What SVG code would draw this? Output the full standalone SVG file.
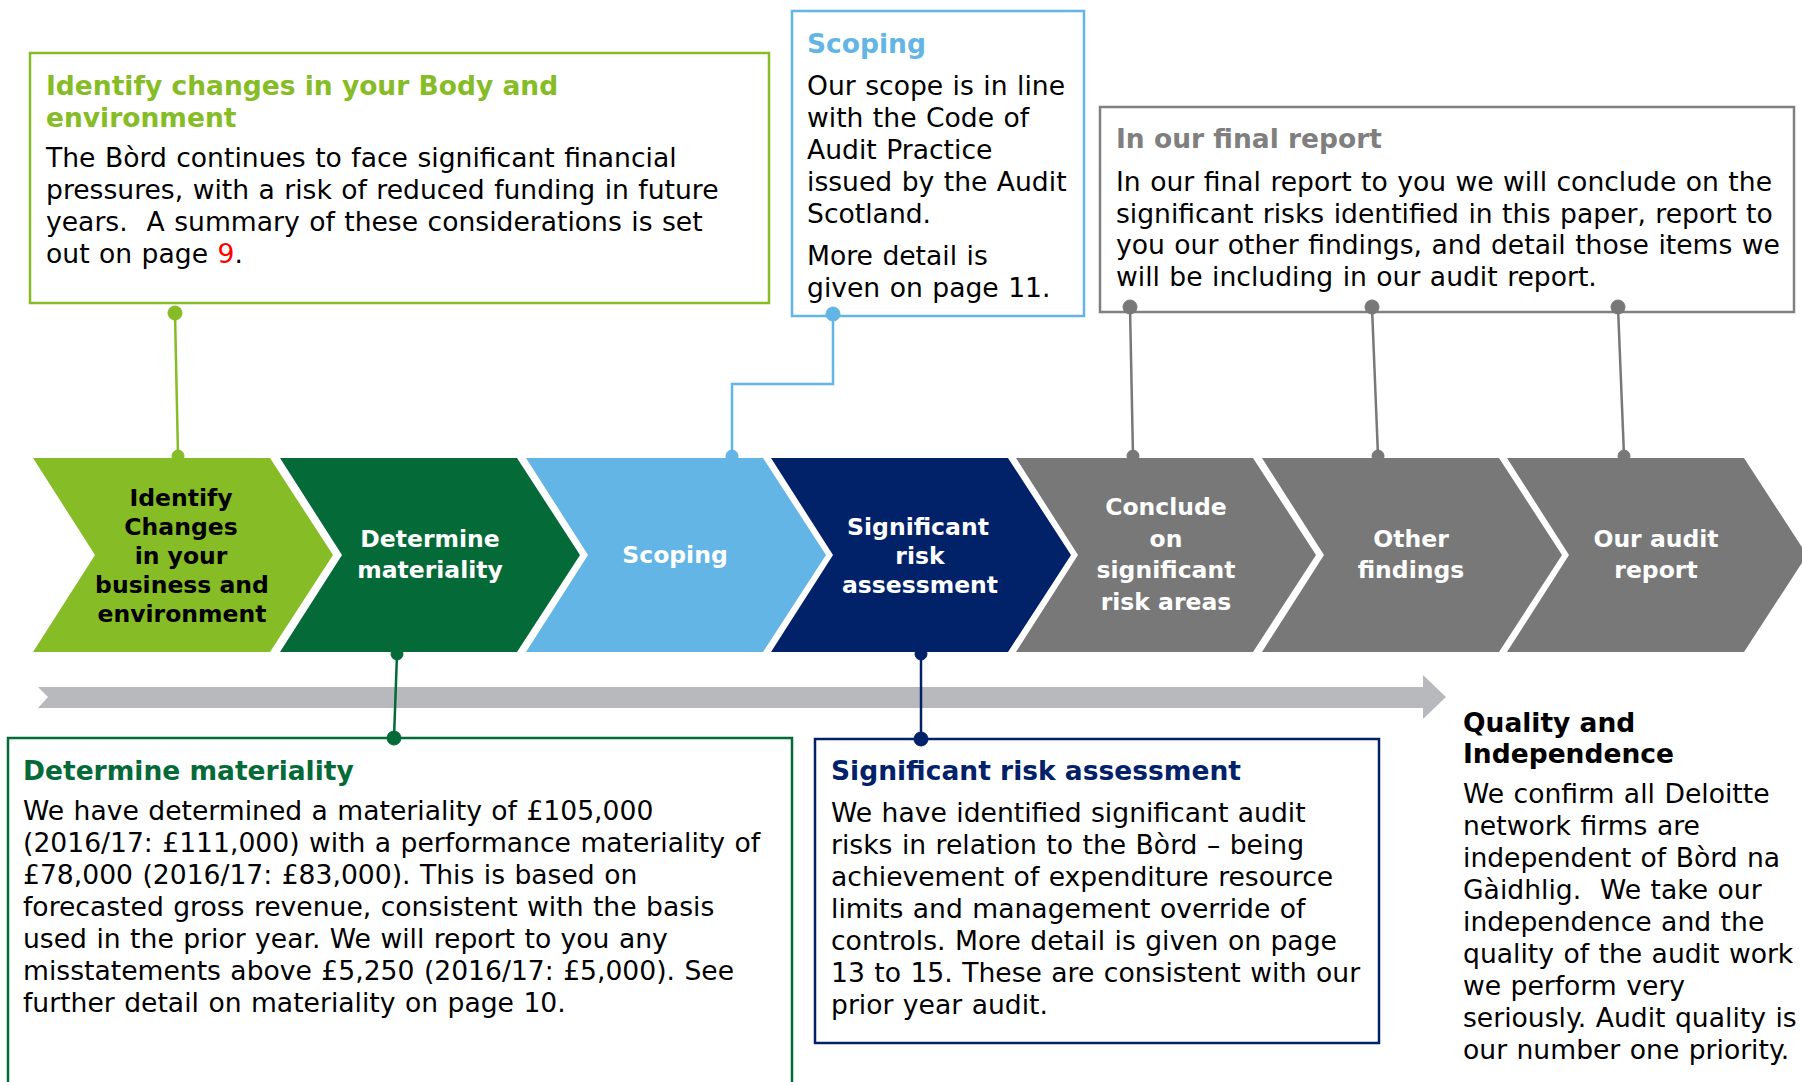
<svg xmlns="http://www.w3.org/2000/svg" width="1802" height="1082" viewBox="0 0 1802 1082">
<style>
.t{font-family:"DejaVu Sans",Verdana,sans-serif;font-size:26.6px;fill:#000;white-space:pre;word-spacing:1px}
.h{font-family:"DejaVu Sans",Verdana,sans-serif;font-size:26.5px;font-weight:bold;white-space:pre}
.c{font-family:"DejaVu Sans",Verdana,sans-serif;font-size:23.5px;font-weight:bold;fill:#fff;text-anchor:middle}
.box{fill:#fff;stroke-width:2.5}
.ln{fill:none;stroke-width:2.5}
</style>
<rect width="1802" height="1082" fill="#fff"/>
<g id="timeline-arrow">
<polygon points="38,687 1423,687 1423,675 1446,697 1423,719 1423,708 38,708 48,697" fill="#B8B9BD"/>
</g>
<g id="box-identify">
<rect class="box" x="30" y="53" width="739" height="250" stroke="#86BC25" stroke-width="3"/>
<text class="h" fill="#86BC25"><tspan x="46" y="95">Identify changes in your Body and</tspan><tspan x="46" y="127">environment</tspan></text>
<text class="t"><tspan x="46" y="167">The Bòrd continues to face significant financial</tspan><tspan x="46" y="199">pressures, with a risk of reduced funding in future</tspan><tspan x="46" y="231">years.  A summary of these considerations is set</tspan><tspan x="46" y="263">out on page <tspan fill="#FF0000">9</tspan>.</tspan></text>
</g>
<g id="box-scoping">
<rect class="box" x="792" y="11" width="292" height="305" stroke="#62B5E5"/>
<text class="h" fill="#62B5E5" x="807" y="53">Scoping</text>
<text class="t"><tspan x="807" y="95">Our scope is in line</tspan><tspan x="807" y="127">with the Code of</tspan><tspan x="807" y="159">Audit Practice</tspan><tspan x="807" y="191">issued by the Audit</tspan><tspan x="807" y="223">Scotland.</tspan><tspan x="807" y="265">More detail is</tspan><tspan x="807" y="297">given on page 11.</tspan></text>
</g>
<g id="box-final">
<rect class="box" x="1100" y="107" width="694" height="205" stroke="#808080"/>
<text class="h" fill="#7F7F7F" x="1116" y="148">In our final report</text>
<text class="t"><tspan x="1116" y="191">In our final report to you we will conclude on the</tspan><tspan x="1116" y="223">significant risks identified in this paper, report to</tspan><tspan x="1116" y="254">you our other findings, and detail those items we</tspan><tspan x="1116" y="286">will be including in our audit report.</tspan></text>
</g>
<g id="box-materiality">
<rect class="box" x="8" y="738" width="784" height="400" stroke="#046A38" stroke-width="2"/>
<text class="h" fill="#046A38" x="23" y="780">Determine materiality</text>
<text class="t"><tspan x="23" y="820">We have determined a materiality of £105,000</tspan><tspan x="23" y="852">(2016/17: £111,000) with a performance materiality of</tspan><tspan x="23" y="884">£78,000 (2016/17: £83,000). This is based on</tspan><tspan x="23" y="916">forecasted gross revenue, consistent with the basis</tspan><tspan x="23" y="948">used in the prior year. We will report to you any</tspan><tspan x="23" y="980">misstatements above £5,250 (2016/17: £5,000). See</tspan><tspan x="23" y="1012">further detail on materiality on page 10.</tspan></text>
</g>
<g id="box-significant">
<rect class="box" x="815" y="739" width="564" height="304" stroke="#012169"/>
<text class="h" fill="#012169" x="831" y="780">Significant risk assessment</text>
<text class="t"><tspan x="831" y="822">We have identified significant audit</tspan><tspan x="831" y="854">risks in relation to the Bòrd – being</tspan><tspan x="831" y="886">achievement of expenditure resource</tspan><tspan x="831" y="918">limits and management override of</tspan><tspan x="831" y="950">controls. More detail is given on page</tspan><tspan x="831" y="982">13 to 15. These are consistent with our</tspan><tspan x="831" y="1014">prior year audit.</tspan></text>
</g>
<g id="quality">
<text class="h" fill="#000"><tspan x="1463" y="732">Quality and</tspan><tspan x="1463" y="763">Independence</tspan></text>
<text class="t"><tspan x="1463" y="803">We confirm all Deloitte</tspan><tspan x="1463" y="835">network firms are</tspan><tspan x="1463" y="867">independent of Bòrd na</tspan><tspan x="1463" y="899">Gàidhlig.  We take our</tspan><tspan x="1463" y="931">independence and the</tspan><tspan x="1463" y="963">quality of the audit work</tspan><tspan x="1463" y="995">we perform very</tspan><tspan x="1463" y="1027">seriously. Audit quality is</tspan><tspan x="1463" y="1059">our number one priority.</tspan></text>
</g>
<g id="step-identify">
<polygon points="33,458 270,458 333,555 270,652 33,652 95,555" fill="#86BC25"/>
<text class="c" style="fill:#000"><tspan x="181" y="506">Identify</tspan><tspan x="181" y="535">Changes</tspan><tspan x="181" y="564">in your</tspan><tspan x="182" y="593">business and</tspan><tspan x="182" y="622">environment</tspan></text>
</g>
<g id="step-materiality">
<polygon points="280,458 517,458 580,555 517,652 280,652 342,555" fill="#046A38"/>
<text class="c"><tspan x="430" y="547">Determine</tspan><tspan x="430" y="578">materiality</tspan></text>
</g>
<g id="step-scoping">
<polygon points="526,458 763,458 826,555 763,652 526,652 588,555" fill="#62B5E5"/>
<text class="c" x="675" y="563">Scoping</text>
</g>
<g id="step-significant">
<polygon points="771,458 1008,458 1071,555 1008,652 771,652 833,555" fill="#012169"/>
<text class="c"><tspan x="918" y="535">Significant</tspan><tspan x="920" y="564">risk</tspan><tspan x="920" y="593">assessment</tspan></text>
</g>
<g id="step-conclude">
<polygon points="1016,458 1253,458 1316,555 1253,652 1016,652 1078,555" fill="#787878"/>
<text class="c"><tspan x="1166" y="515">Conclude</tspan><tspan x="1166" y="547">on</tspan><tspan x="1166" y="578">significant</tspan><tspan x="1166" y="610">risk areas</tspan></text>
</g>
<g id="step-other">
<polygon points="1262,458 1499,458 1562,555 1499,652 1262,652 1324,555" fill="#787878"/>
<text class="c"><tspan x="1411" y="547">Other</tspan><tspan x="1411" y="578">findings</tspan></text>
</g>
<g id="step-report">
<polygon points="1507,458 1744,458 1807,555 1744,652 1507,652 1569,555" fill="#787878"/>
<text class="c"><tspan x="1656" y="547">Our audit</tspan><tspan x="1656" y="578">report</tspan></text>
</g>
<g id="connectors">
<g stroke="#86BC25" fill="#86BC25"><line class="ln" x1="175" y1="313" x2="178" y2="456"/><circle cx="175" cy="313" r="7"/><circle cx="178" cy="456" r="6"/></g>
<g stroke="#62B5E5" fill="#62B5E5"><polyline class="ln" points="833,314 833,384 732,384 732,456"/><circle cx="833" cy="314" r="7"/><circle cx="732" cy="456" r="6"/></g>
<g stroke="#787878" fill="#787878"><line class="ln" x1="1130" y1="307" x2="1133" y2="456"/><circle cx="1130" cy="307" r="7"/><circle cx="1133" cy="456" r="6"/>
<line class="ln" x1="1372" y1="307" x2="1378" y2="456"/><circle cx="1372" cy="307" r="7"/><circle cx="1378" cy="456" r="6"/>
<line class="ln" x1="1618" y1="307" x2="1624" y2="456"/><circle cx="1618" cy="307" r="7"/><circle cx="1624" cy="456" r="6"/></g>
<g stroke="#046A38" fill="#046A38"><line class="ln" x1="397" y1="654" x2="394" y2="738"/><circle cx="397" cy="654" r="6"/><circle cx="394" cy="738" r="7"/></g>
<g stroke="#012169" fill="#012169"><line class="ln" x1="921" y1="654" x2="921" y2="739"/><circle cx="921" cy="654" r="6"/><circle cx="921" cy="739" r="7"/></g>
</g>
</svg>
